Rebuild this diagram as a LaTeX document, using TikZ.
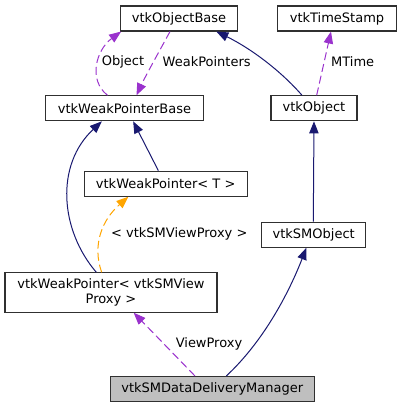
\documentclass[tikz,border=0pt]{standalone}
\usepackage{fontspec}
\setmainfont{DejaVu Sans}
\usepackage{tikz}
\usetikzlibrary{arrows.meta,positioning}

\definecolor{edgenavy}{HTML}{191970}
\definecolor{edgeorchid}{HTML}{9A32CD}
\definecolor{edgeorange}{HTML}{FFA500}
\definecolor{boxline}{HTML}{303030}
\definecolor{mainfill}{HTML}{BFBFBF}

\begin{document}
\begin{tikzpicture}[
  x=0.75pt, y=-0.75pt,
  font=\fontsize{9.75}{10.7}\selectfont,
  cls/.style={draw=boxline, line width=0.8pt, fill=white, align=center,
    inner sep=0pt, minimum height=18.75pt},
  mainnode/.style={cls, fill=mainfill},
  lbl/.style={inner sep=0pt},
  tip/.style={-{Triangle[length=9pt, width=7pt]}, line width=0.75pt},
  inherit/.style={tip, draw=edgenavy},
  usage/.style={tip, draw=edgeorchid, dash pattern=on 6pt off 3pt},
  templ/.style={tip, draw=edgeorange, dash pattern=on 6pt off 3pt}
]
\useasboundingbox (0,0) rectangle (401,408);

% classes
\node[cls, minimum width=88pt] (objbase) at (179,18.5) {vtkObjectBase};
\node[cls, minimum width=89.5pt] (tstamp) at (337,18.5) {vtkTimeStamp};
\node[cls, minimum width=118pt] (wpbase) at (124.5,108.3) {vtkWeakPointerBase};
\node[cls, minimum width=64.5pt] (vobj) at (314,108.3) {vtkObject};
\node[cls, minimum width=122pt] (wpT) at (165.7,183.7) {vtkWeakPointer< T >};
\node[cls, minimum width=78pt] (smobj) at (313.7,234.7) {vtkSMObject};
\node[cls, minimum width=159pt, minimum height=29.5pt] (wpview) at (111,292.5)
  {vtkWeakPointer< vtkSMView\\Proxy >};
\node[mainnode, minimum width=153pt] (ddm) at (212.3,389) {vtkSMDataDeliveryManager};

% edges
\draw[usage] ([xshift=-12.75pt]wpbase.north) .. controls (88,80) and (96,50) .. ([xshift=1pt]objbase.south west);
\draw[usage] ([xshift=-6.75pt]objbase.south) .. controls (160,50) and (146,75) .. ([xshift=9pt]wpbase.north);
\draw[inherit] ([xshift=-9pt]vobj.north) .. controls (280,70) and (250,48) .. ([xshift=28pt]objbase.south);
\draw[usage] ([xshift=2pt]vobj.north) -- ([xshift=-4.5pt]tstamp.south);
\draw[inherit] ([xshift=-0.3pt]smobj.north) -- (vobj.south);
\draw[inherit] ([xshift=-5.5pt]wpT.north) -- ([xshift=6.5pt]wpbase.south);
\draw[inherit] ([xshift=-11pt]wpview.north) .. controls (60,230) and (55,165) .. ([xshift=-17pt]wpbase.south);
\draw[templ] ([xshift=-7pt]wpview.north) .. controls (92,245) and (102,220) .. ([xshift=-28pt]wpT.south);
\draw[inherit] ([xshift=10.5pt]ddm.north) .. controls (265,340) and (290,290) .. ([xshift=-5.5pt]smobj.south);
\draw[usage] ([xshift=-13pt]ddm.north) -- ([xshift=17pt]wpview.south);

% edge labels
\node[lbl] (lobject) at (123,62.3) {Object};
\node[lbl] (lweak) at (206.7,62) {WeakPointers};
\node[lbl] (lmtime) at (352.7,62) {MTime};
\node[lbl] (ltempl) at (179.3,234.3) {< vtkSMViewProxy >};
\node[lbl] (lview) at (209,344) {ViewProxy};
\end{tikzpicture}
\end{document}
